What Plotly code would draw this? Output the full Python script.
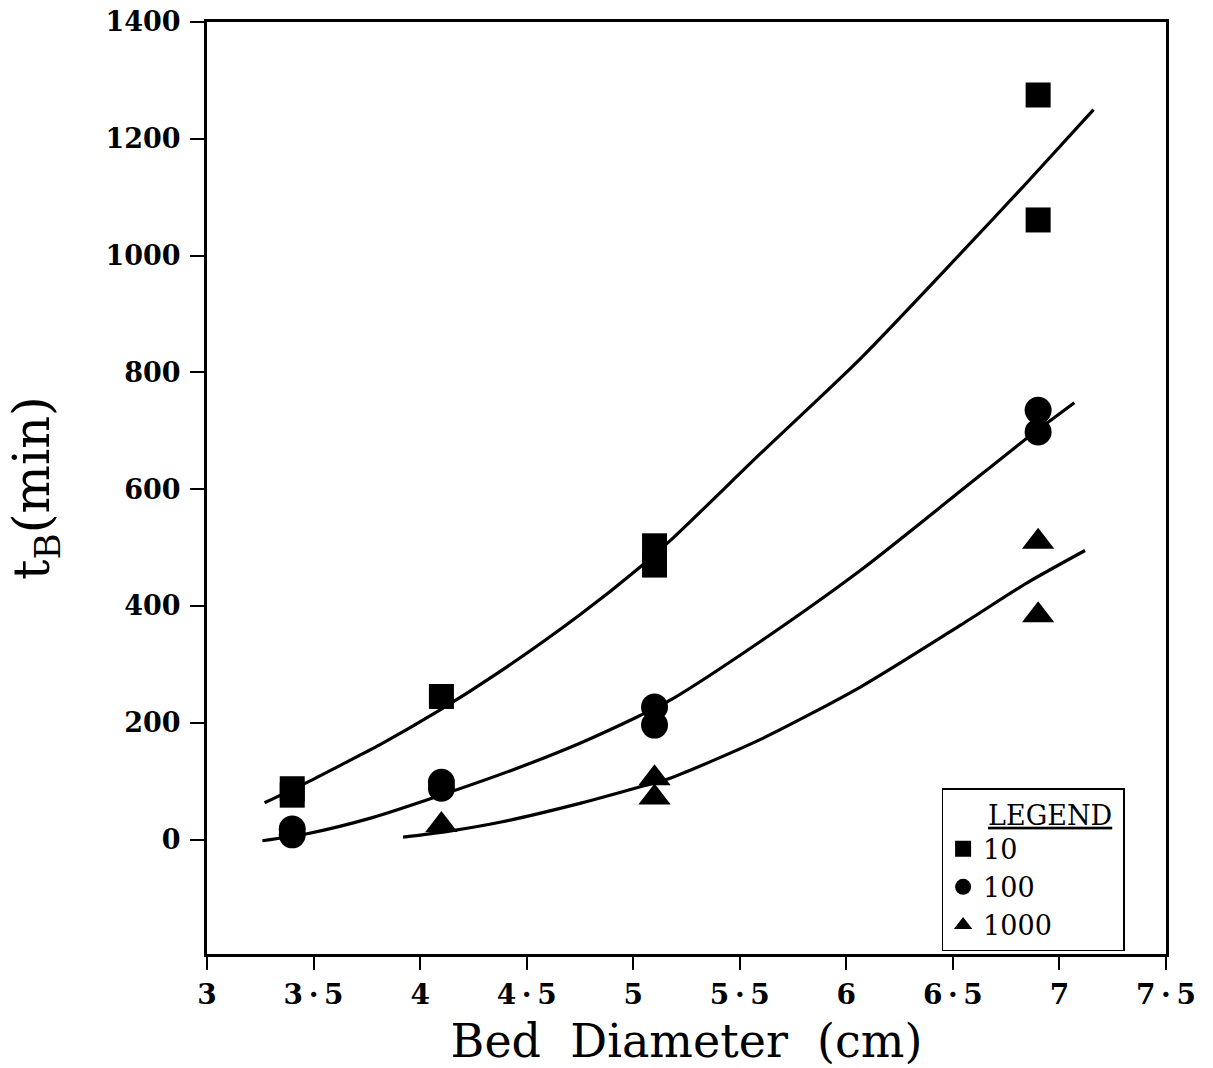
import plotly.graph_objects as go

# ---------------- data ----------------
x_ticks = [3, 3.5, 4, 4.5, 5, 5.5, 6, 6.5, 7, 7.5]
x_ticktext = ["3", "3\u2009·\u20095", "4", "4\u2009·\u20095", "5", "5\u2009·\u20095",
              "6", "6\u2009·\u20095", "7", "7\u2009·\u20095"]
y_ticks = [0, 200, 400, 600, 800, 1000, 1200, 1400]

# measured points (bed diameter cm, breakthrough time min)
sq_x = [3.4, 3.4, 4.1, 5.1, 5.1, 6.9, 6.9]
sq_y = [87, 76, 245, 503, 470, 1275, 1061]

ci_x = [3.4, 3.4, 4.1, 4.1, 5.1, 5.1, 6.9, 6.9]
ci_y = [18, 8, 98, 88, 227, 196, 735, 698]

tr_x = [4.1, 5.1, 5.1, 6.9, 6.9]
tr_y = [25, 105, 72, 510, 384]

# fitted curves
fit10_x = [3.27, 3.47, 3.63, 3.81, 4.09, 4.36, 4.75, 5.03, 5.18, 5.60, 6.07, 6.54, 6.85, 7.16]
fit10_y = [63, 98, 128, 162, 221, 284, 385, 466, 514, 662, 825, 1005, 1126, 1250]

fit100_x = [3.26, 3.47, 3.78, 4.09, 4.44, 4.75, 5.03, 5.18, 5.60, 6.07, 6.54, 6.85, 7.07]
fit100_y = [-2, 10, 38, 75, 120, 165, 212, 240, 340, 462, 598, 688, 748]

fit1000_x = [3.92, 4.13, 4.38, 4.75, 5.05, 5.18, 5.60, 6.07, 6.54, 6.85, 7.12]
fit1000_y = [4, 14, 30, 62, 92, 106, 172, 262, 368, 440, 495]

series_names = ["10", "100", "1000"]

FONT = "DejaVu Serif"
BLACK = "black"

fig = go.Figure()

# fitted lines
for fx, fy in [(fit10_x, fit10_y), (fit100_x, fit100_y), (fit1000_x, fit1000_y)]:
    fig.add_trace(go.Scatter(x=fx, y=fy, mode="lines",
                             line=dict(color=BLACK, width=3.2, shape="spline", smoothing=0.7),
                             showlegend=False, hoverinfo="skip"))

# markers
fig.add_trace(go.Scatter(x=sq_x, y=sq_y, mode="markers", name=series_names[0],
                         marker=dict(symbol="square", size=25, color=BLACK)))
fig.add_trace(go.Scatter(x=ci_x, y=ci_y, mode="markers", name=series_names[1],
                         marker=dict(symbol="circle", size=27, color=BLACK)))
fig.add_trace(go.Scatter(x=tr_x, y=tr_y, mode="markers", name=series_names[2],
                         marker=dict(symbol="triangle-up", size=28, color=BLACK)))

fig.update_layout(
    width=1213, height=1068,
    margin=dict(l=207, r=47, t=22, b=114),
    paper_bgcolor="white", plot_bgcolor="white",
    font=dict(family=FONT, color=BLACK, size=28),
    showlegend=True,
    legend=dict(
        x=0.766, y=0.178, xanchor="left", yanchor="top",
        bordercolor=BLACK, borderwidth=1.5, bgcolor="white",
        font=dict(family=FONT, size=27, color=BLACK),
        title=dict(text="\u00a0\u00a0\u00a0\u00a0\u00a0<u>LEGEND</u>\u00a0",
                   side="top", font=dict(family=FONT, size=27)),
        itemsizing="trace",
    ),
    xaxis=dict(
        range=[3, 7.5], tickvals=x_ticks, ticktext=x_ticktext,
        ticks="outside", ticklen=13, tickwidth=2, tickcolor=BLACK,
        showline=True, linecolor=BLACK, linewidth=3, mirror=True,
        showgrid=False, zeroline=False, automargin=False,
        tickfont=dict(family=FONT, size=28, weight="bold"),
        title=dict(text="Bed\u00a0\u00a0Diameter\u00a0\u00a0(cm)", font=dict(family=FONT, size=46), standoff=17),
    ),
    yaxis=dict(
        range=[-196, 1400], tickvals=y_ticks,
        ticks="outside", ticklen=14, tickwidth=2, tickcolor=BLACK,
        showline=True, linecolor=BLACK, linewidth=3, mirror=True,
        showgrid=False, zeroline=False, automargin=False,
        ticklabelstandoff=4,
        tickfont=dict(family=FONT, size=27, weight="bold"),
        title=dict(text="t<sub>B</sub>(min)", font=dict(family=FONT, size=51), standoff=40),
    ),
)

fig.write_html("out.html")
